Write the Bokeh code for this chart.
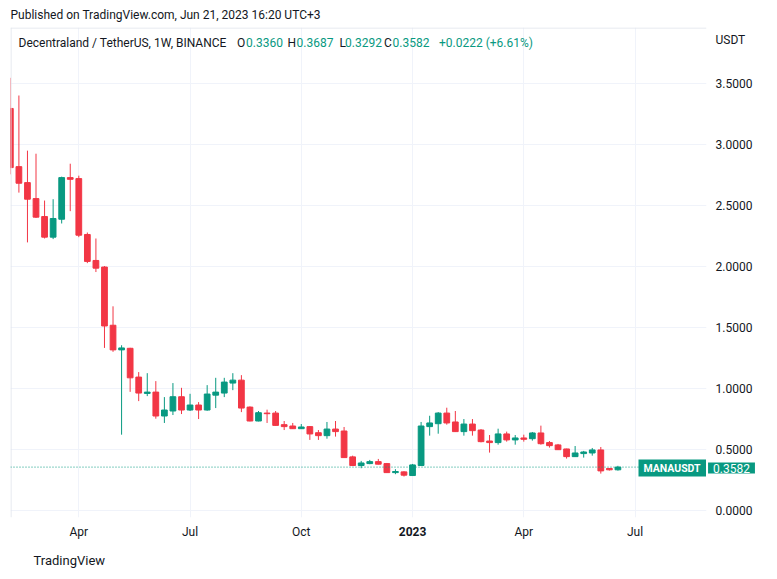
import pandas as pd
from bokeh.plotting import figure
from bokeh.models import (Range1d, FixedTicker, PrintfTickFormatter, Label, Span,
                          BoxAnnotation, ColumnDataSource)
from bokeh.embed import file_html
from bokeh.resources import INLINE

# ---------------- data (weekly candles, MANA/USDT, Binance) ----------------
first_week = "2022-02-07"
opens = [3.298, 2.821, 2.690, 2.559, 2.412, 2.243, 2.390, 2.731, 2.723, 2.265,
         2.052, 1.998, 1.521, 1.319, 1.332, 1.096, 0.962, 0.973, 0.777, 0.818,
         0.935, 0.826, 0.867, 0.826, 0.948, 0.965, 1.047, 1.071, 0.850, 0.736,
         0.801, 0.801, 0.706, 0.695, 0.673, 0.690, 0.640, 0.616, 0.670, 0.654,
         0.442, 0.371, 0.387, 0.403, 0.387, 0.313, 0.319, 0.289, 0.371, 0.690,
         0.714, 0.801, 0.728, 0.649, 0.711, 0.662, 0.572, 0.559, 0.630, 0.581,
         0.597, 0.591, 0.638, 0.559, 0.540, 0.507, 0.444, 0.469, 0.474, 0.499,
         0.347, 0.3360]
highs = [3.549, 3.404, 2.952, 2.927, 2.543, 2.554, 2.739, 2.845, 2.747, 2.281,
         2.232, 2.006, 1.676, 1.357, 1.336, 1.137, 1.128, 1.063, 0.932, 1.047,
         1.008, 0.959, 0.891, 1.030, 1.090, 1.090, 1.128, 1.112, 0.856, 0.818,
         0.829, 0.818, 0.736, 0.720, 0.711, 0.695, 0.662, 0.728, 0.736, 0.687,
         0.452, 0.409, 0.417, 0.425, 0.392, 0.341, 0.324, 0.384, 0.728, 0.779,
         0.809, 0.845, 0.818, 0.752, 0.752, 0.670, 0.621, 0.673, 0.649, 0.621,
         0.624, 0.646, 0.698, 0.572, 0.548, 0.509, 0.531, 0.491, 0.515, 0.523,
         0.350, 0.3687]
lows = [2.758, 2.608, 2.200, 2.400, 2.232, 2.227, 2.355, 2.456, 2.243, 2.030,
        1.957, 1.335, 1.303, 0.624, 0.975, 0.899, 0.940, 0.755, 0.720, 0.785,
        0.793, 0.818, 0.752, 0.820, 0.842, 0.932, 0.989, 0.809, 0.733, 0.733,
        0.720, 0.698, 0.662, 0.671, 0.671, 0.581, 0.581, 0.591, 0.608, 0.434,
        0.369, 0.349, 0.382, 0.380, 0.311, 0.300, 0.281, 0.287, 0.369, 0.616,
        0.632, 0.706, 0.647, 0.616, 0.616, 0.561, 0.477, 0.542, 0.567, 0.542,
        0.567, 0.575, 0.542, 0.518, 0.499, 0.428, 0.442, 0.436, 0.452, 0.305,
        0.330, 0.3292]
closes = [2.813, 2.685, 2.554, 2.407, 2.243, 2.396, 2.731, 2.717, 2.259, 2.044,
          1.989, 1.515, 1.319, 1.335, 1.090, 0.965, 0.973, 0.777, 0.826, 0.935,
          0.826, 0.867, 0.826, 0.957, 0.973, 1.055, 1.071, 0.842, 0.736, 0.804,
          0.796, 0.700, 0.690, 0.673, 0.687, 0.630, 0.616, 0.670, 0.649, 0.436,
          0.371, 0.392, 0.403, 0.382, 0.313, 0.322, 0.292, 0.376, 0.695, 0.720,
          0.801, 0.720, 0.649, 0.711, 0.657, 0.567, 0.559, 0.630, 0.581, 0.597,
          0.586, 0.638, 0.550, 0.534, 0.501, 0.444, 0.474, 0.482, 0.499, 0.327,
          0.336, 0.3582]

price_ticks = [0.0, 0.5, 1.0, 1.5, 2.0, 2.5, 3.0, 3.5]
time_tick_dates = ["2022-04-04", "2022-07-04", "2022-10-03", "2023-01-02", "2023-04-03", "2023-07-03"]
time_tick_labels = ["Apr", "Jul", "Oct", "2023", "Apr", "Jul"]
year_tick = "2023"

symbol = "MANAUSDT"
last_price = 0.3582
header_title = "Decentraland / TetherUS, 1W, BINANCE"
ohlc_letters = ["O", "H", "L", "C"]
ohlc_values = ["0.3360", "0.3687", "0.3292", "0.3582"]
change_text = "+0.0222 (+6.61%)"
published = "Published on TradingView.com, Jun 21, 2023 16:20 UTC+3"
currency = "USDT"
brand = "TradingView"

# ---------------- styling ----------------
GREEN = "#089981"
RED = "#F23645"
TXT = "#131722"
GRID = "#F0F3FA"
BORDER = "#E0E3EB"
FONT = "Roboto"
DAY = 86400000.0

# canvas pixel -> data helpers (used only for placing annotations)
REF_MS = pd.Timestamp("2022-04-04").value / 1e6
PX_DAY = 1.2225
REF_PX = 78.3


def px2x(px):
    return REF_MS + (px - REF_PX) / PX_DAY * DAY


def py2v(py):
    return (510.3 - py) / 122.0


W, H = 772, 576
FL, FR, FT, FB = 10, 706, 27, 517

dates = pd.date_range(first_week, periods=len(opens), freq="7D")
colors = [GREEN if c >= o else RED for o, c in zip(opens, closes)]
src = ColumnDataSource(dict(
    x=dates, open=opens, high=highs, low=lows, close=closes,
    top=[max(o, c) for o, c in zip(opens, closes)],
    bottom=[min(o, c) for o, c in zip(opens, closes)],
    color=colors))

p = figure(width=W, height=H, x_axis_type="datetime", y_axis_location="right",
           x_range=Range1d(px2x(FL), px2x(FR)), y_range=Range1d(py2v(FB), py2v(FT)),
           output_backend="svg", toolbar_location=None,
           min_border_left=FL, min_border_right=W - FR, min_border_top=FT, min_border_bottom=H - FB)
p.background_fill_color = "white"
p.border_fill_color = "white"
p.outline_line_color = None

tick_ms = [pd.Timestamp(d).value / 1e6 for d in time_tick_dates]
p.xaxis.ticker = FixedTicker(ticks=tick_ms)
p.xaxis.major_label_overrides = {t: ("" if l == year_tick else l) for t, l in zip(tick_ms, time_tick_labels)}
usdt_level = py2v(39.5)
p.yaxis.ticker = FixedTicker(ticks=price_ticks + [usdt_level])
p.yaxis.formatter = PrintfTickFormatter(format="%.4f")
p.yaxis.major_label_overrides = {usdt_level: currency}
for ax in (p.xaxis[0], p.yaxis[0]):
    ax.axis_line_color = None
    ax.major_tick_line_color = None
    ax.minor_tick_line_color = None
    ax.major_tick_out = 0
    ax.minor_tick_out = 0
    ax.major_label_text_font = FONT
    ax.major_label_text_font_size = "12px"
    ax.major_label_text_color = TXT
p.xaxis.major_label_standoff = 7
p.yaxis.major_label_standoff = 9

p.xgrid.ticker = FixedTicker(ticks=tick_ms)
p.ygrid.ticker = FixedTicker(ticks=price_ticks)
p.xgrid.grid_line_color = GRID
p.ygrid.grid_line_color = GRID

# widget border (top and left edges of the pane)
p.add_layout(Span(location=py2v(FT + 0.5), dimension="width", line_color=BORDER, line_width=1))
p.add_layout(Span(location=px2x(FL + 0.5), dimension="height", line_color=BORDER, line_width=1))

p.segment(x0="x", y0="low", x1="x", y1="high", color="color", line_width=1, source=src)
p.vbar(x="x", width=4.7 * DAY, top="top", bottom="bottom", fill_color="color",
       line_color="color", line_width=1, source=src)

p.add_layout(Span(location=last_price, dimension="width", line_color=GREEN,
                  line_dash="1 2", line_width=1))

# header line inside the pane
HB = py2v(42)
p.add_layout(Label(x=px2x(18), y=HB, text=header_title, text_font=FONT,
                   text_font_size="12px", text_color=TXT, text_baseline="middle"))
letter_px = [236.5, 287.0, 339.0, 383.5]
value_px = [245.5, 296.0, 344.5, 392.0]
for lt, lx, vt, vx in zip(ohlc_letters, letter_px, ohlc_values, value_px):
    p.add_layout(Label(x=px2x(lx), y=HB, text=lt, text_font=FONT, text_baseline="middle",
                       text_font_size="12px", text_color=TXT))
    p.add_layout(Label(x=px2x(vx), y=HB, text=vt, text_font=FONT, text_baseline="middle",
                       text_font_size="12px", text_color=GREEN))
p.add_layout(Label(x=px2x(438.5), y=HB, text=change_text, text_font=FONT, text_baseline="middle",
                   text_font_size="12px", text_color=GREEN))

# symbol tag inside the pane
p.add_layout(BoxAnnotation(left=px2x(638), right=px2x(705.5), top=py2v(459), bottom=py2v(476),
                           fill_color=GREEN, fill_alpha=1, line_color=None))
p.add_layout(Label(x=px2x(671.5), y=py2v(467.5), text=symbol, text_font=FONT,
                   text_font_size="10.5px", text_font_style="bold", text_color="white",
                   text_align="center", text_baseline="middle"))

# texts outside the pane (side panels are not clipped)
p.add_layout(Label(x=px2x(10), y=py2v(14.5), text=published, text_font=FONT,
                   text_font_size="12px", text_color=TXT, text_baseline="middle"), "above")
p.add_layout(Label(x=tick_ms[time_tick_labels.index(year_tick)], y=py2v(530.5), text=year_tick,
                   text_font=FONT, text_font_size="12px", text_font_style="bold",
                   text_color=TXT, text_align="center", text_baseline="middle"), "above")
p.add_layout(Label(x=px2x(731), y=py2v(467.5), text=f"{last_price:.4f}", text_font=FONT,
                   text_font_size="12px", text_color="white", background_fill_color=GREEN,
                   padding=(5, 1), text_align="center", text_baseline="middle"), "below")
p.add_layout(Label(x=px2x(33), y=py2v(560), text=brand, text_font=FONT,
                   text_font_size="13px", text_color=TXT, text_baseline="middle"), "below")

open("out.html", "w").write(file_html(p, INLINE))
